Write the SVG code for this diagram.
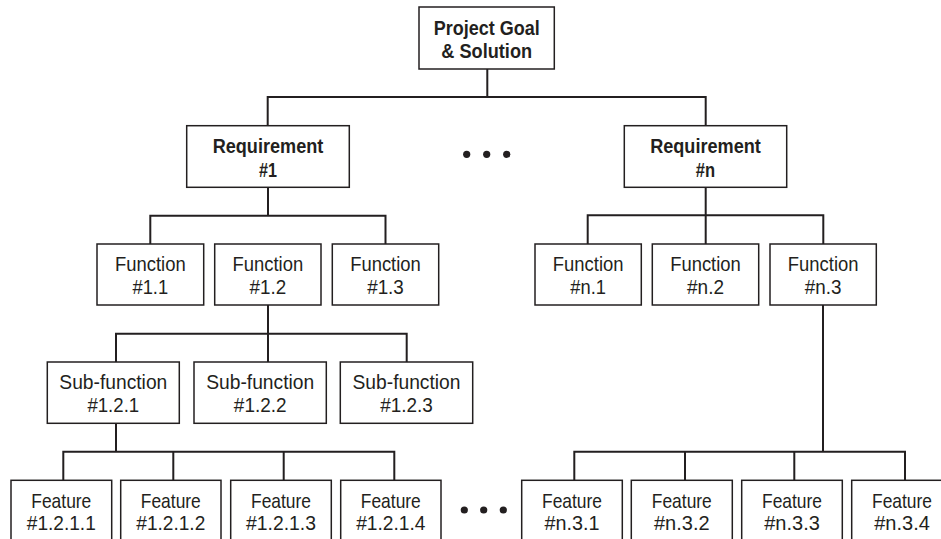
<svg xmlns="http://www.w3.org/2000/svg" width="941" height="539" viewBox="0 0 941 539">
<style>
.box{fill:#fff;stroke:#231f20;stroke-width:1.5}
.t{font-family:"Liberation Sans",Arial,sans-serif;font-size:21px;fill:#231f20;text-anchor:middle}
.b{font-weight:bold}
.c{fill:none;stroke:#231f20;stroke-width:2}
.dot{fill:#231f20}
</style>
<rect width="941" height="539" fill="#fff"/>
<g id="connectors">
<path class="c" d="M487.3 69V97M267.7 97H705.7M267.7 96V126M705.7 96V126"/>
<path class="c" d="M268 187V215.7M150.3 215.7H385.5M150.3 214.7V244M385.5 214.7V244"/>
<path class="c" d="M705.7 187V215.3M587.7 215.3H823.3M587.7 214.3V244M705.7 214.3V244M823.3 214.3V244"/>
<path class="c" d="M268 305V333.7M116 333.7H406.7M116 332.7V362M268 332.7V362M406.7 332.7V362"/>
<path class="c" d="M116 423V451.7M63.3 451.7H394.3M63.3 450.7V480.3M173.3 450.7V480.3M283.7 450.7V480.3M394.3 450.7V480.3"/>
<path class="c" d="M823 305V451.7M574.3 451.7H905M574.3 450.7V480.3M685 450.7V480.3M794.3 450.7V480.3M905 450.7V480.3"/>
</g>
<g id="ellipsis-top"><circle class="dot" cx="466.7" cy="154.3" r="3.6"/><circle class="dot" cx="486.7" cy="154.3" r="3.6"/><circle class="dot" cx="506.7" cy="154.3" r="3.6"/></g>
<g id="ellipsis-bottom"><circle class="dot" cx="464.3" cy="510" r="3.6"/><circle class="dot" cx="483.7" cy="510" r="3.6"/><circle class="dot" cx="503.3" cy="510" r="3.6"/></g>

<g id="goal"><rect class="box" x="419" y="7" width="135.3" height="62"/>
<text class="t b" x="486.7" y="35" textLength="106" lengthAdjust="spacingAndGlyphs">Project Goal</text>
<text class="t b" x="486.7" y="57.5" textLength="90.7" lengthAdjust="spacingAndGlyphs">&amp; Solution</text></g>

<g id="req1"><rect class="box" x="186.7" y="125.7" width="162.6" height="61.6"/>
<text class="t b" x="268" y="152.5" textLength="110.7" lengthAdjust="spacingAndGlyphs">Requirement</text>
<text class="t b" x="268" y="176.5" textLength="18" lengthAdjust="spacingAndGlyphs">#1</text></g>

<g id="reqn"><rect class="box" x="624.3" y="125.7" width="162.4" height="61.6"/>
<text class="t b" x="705.5" y="152.5" textLength="110.7" lengthAdjust="spacingAndGlyphs">Requirement</text>
<text class="t b" x="705.5" y="176.5" textLength="19.3" lengthAdjust="spacingAndGlyphs">#n</text></g>

<g id="f11"><rect class="box" x="97" y="244" width="106.7" height="61"/>
<text class="t" x="150.3" y="271" textLength="70.7" lengthAdjust="spacingAndGlyphs">Function</text>
<text class="t" x="150.3" y="293.5" textLength="35.7" lengthAdjust="spacingAndGlyphs">#1.1</text></g>
<g id="f12"><rect class="box" x="214.7" y="244" width="106.3" height="61"/>
<text class="t" x="267.8" y="271" textLength="70.7" lengthAdjust="spacingAndGlyphs">Function</text>
<text class="t" x="267.8" y="293.5" textLength="36.7" lengthAdjust="spacingAndGlyphs">#1.2</text></g>
<g id="f13"><rect class="box" x="332.3" y="244" width="106.4" height="61"/>
<text class="t" x="385.5" y="271" textLength="70.7" lengthAdjust="spacingAndGlyphs">Function</text>
<text class="t" x="385.5" y="293.5" textLength="36.7" lengthAdjust="spacingAndGlyphs">#1.3</text></g>

<g id="fn1"><rect class="box" x="535" y="244" width="106.3" height="61"/>
<text class="t" x="588.2" y="271" textLength="70.7" lengthAdjust="spacingAndGlyphs">Function</text>
<text class="t" x="588.2" y="293.5" textLength="35.7" lengthAdjust="spacingAndGlyphs">#n.1</text></g>
<g id="fn2"><rect class="box" x="652.3" y="244" width="106.4" height="61"/>
<text class="t" x="705.5" y="271" textLength="70.7" lengthAdjust="spacingAndGlyphs">Function</text>
<text class="t" x="705.5" y="293.5" textLength="37" lengthAdjust="spacingAndGlyphs">#n.2</text></g>
<g id="fn3"><rect class="box" x="770" y="244" width="106.3" height="61"/>
<text class="t" x="823.2" y="271" textLength="70.7" lengthAdjust="spacingAndGlyphs">Function</text>
<text class="t" x="823.2" y="293.5" textLength="36.7" lengthAdjust="spacingAndGlyphs">#n.3</text></g>

<g id="sf121"><rect class="box" x="47.3" y="362" width="132" height="61.3"/>
<text class="t" x="113.3" y="389" textLength="108" lengthAdjust="spacingAndGlyphs">Sub-function</text>
<text class="t" x="113.3" y="411.5" textLength="51.7" lengthAdjust="spacingAndGlyphs">#1.2.1</text></g>
<g id="sf122"><rect class="box" x="194" y="362" width="132.3" height="61.3"/>
<text class="t" x="260.2" y="389" textLength="108" lengthAdjust="spacingAndGlyphs">Sub-function</text>
<text class="t" x="260.2" y="411.5" textLength="52.7" lengthAdjust="spacingAndGlyphs">#1.2.2</text></g>
<g id="sf123"><rect class="box" x="340.3" y="362" width="132.4" height="61.3"/>
<text class="t" x="406.5" y="389" textLength="108" lengthAdjust="spacingAndGlyphs">Sub-function</text>
<text class="t" x="406.5" y="411.5" textLength="52.7" lengthAdjust="spacingAndGlyphs">#1.2.3</text></g>

<g id="ft1211"><rect class="box" x="11" y="480.3" width="100.7" height="70"/>
<text class="t" x="61.3" y="507.5" textLength="60" lengthAdjust="spacingAndGlyphs">Feature</text>
<text class="t" x="61.3" y="530" textLength="69" lengthAdjust="spacingAndGlyphs">#1.2.1.1</text></g>
<g id="ft1212"><rect class="box" x="120.7" y="480.3" width="100.3" height="70"/>
<text class="t" x="170.8" y="507.5" textLength="60" lengthAdjust="spacingAndGlyphs">Feature</text>
<text class="t" x="170.8" y="530" textLength="69" lengthAdjust="spacingAndGlyphs">#1.2.1.2</text></g>
<g id="ft1213"><rect class="box" x="230.7" y="480.3" width="100.6" height="70"/>
<text class="t" x="281" y="507.5" textLength="60" lengthAdjust="spacingAndGlyphs">Feature</text>
<text class="t" x="281" y="530" textLength="70" lengthAdjust="spacingAndGlyphs">#1.2.1.3</text></g>
<g id="ft1214"><rect class="box" x="340.7" y="480.3" width="100.3" height="70"/>
<text class="t" x="390.8" y="507.5" textLength="60" lengthAdjust="spacingAndGlyphs">Feature</text>
<text class="t" x="390.8" y="530" textLength="69.3" lengthAdjust="spacingAndGlyphs">#1.2.1.4</text></g>

<g id="ftn31"><rect class="box" x="521.7" y="480.3" width="100.6" height="70"/>
<text class="t" x="572" y="507.5" textLength="60" lengthAdjust="spacingAndGlyphs">Feature</text>
<text class="t" x="572" y="530" textLength="55" lengthAdjust="spacingAndGlyphs">#n.3.1</text></g>
<g id="ftn32"><rect class="box" x="631.3" y="480.3" width="101" height="70"/>
<text class="t" x="681.8" y="507.5" textLength="60" lengthAdjust="spacingAndGlyphs">Feature</text>
<text class="t" x="681.8" y="530" textLength="55.7" lengthAdjust="spacingAndGlyphs">#n.3.2</text></g>
<g id="ftn33"><rect class="box" x="741.7" y="480.3" width="100.6" height="70"/>
<text class="t" x="792" y="507.5" textLength="60" lengthAdjust="spacingAndGlyphs">Feature</text>
<text class="t" x="792" y="530" textLength="55.7" lengthAdjust="spacingAndGlyphs">#n.3.3</text></g>
<g id="ftn34"><rect class="box" x="851.7" y="480.3" width="100.6" height="70"/>
<text class="t" x="902" y="507.5" textLength="60" lengthAdjust="spacingAndGlyphs">Feature</text>
<text class="t" x="902" y="530" textLength="55.7" lengthAdjust="spacingAndGlyphs">#n.3.4</text></g>
</svg>
